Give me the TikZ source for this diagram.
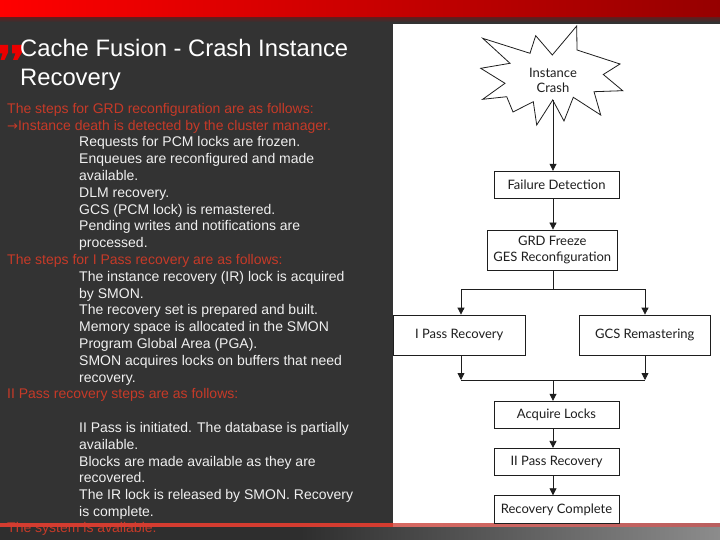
\documentclass[tikz,border=0pt]{standalone}
\usepackage{fontspec}
\setmainfont{Liberation Sans}
\newfontfamily\bodyfont{Liberation Sans}
\newfontfamily\diagfont{Lato}
\newfontfamily\arrowfont{DejaVu Sans}
\usetikzlibrary{arrows.meta}
\definecolor{bg}{RGB}{51,51,51}
\definecolor{bgstrip}{RGB}{46,46,46}
\definecolor{bgstripr}{RGB}{140,140,140}
\definecolor{topl}{RGB}{255,0,0}
\definecolor{topr}{RGB}{150,0,0}
\definecolor{topedge}{RGB}{95,30,30}
\definecolor{txtred}{RGB}{198,58,40}
\definecolor{txtwhite}{RGB}{240,240,240}
\definecolor{redline}{RGB}{212,60,48}
\definecolor{redlinel}{RGB}{215,105,98}
\definecolor{redliner}{RGB}{185,95,95}
\definecolor{quotered}{RGB}{235,0,0}
\definecolor{ink}{RGB}{30,30,30}
\tikzset{
  redtxt/.style={anchor=base west, inner sep=0, text=txtred, font=\bodyfont\fontsize{14}{16.8}\selectfont},
  whtxt/.style={anchor=base west, inner sep=0, text=txtwhite, font=\bodyfont\fontsize{14}{16.8}\selectfont},
  ttl/.style={anchor=base west, inner sep=0, text=white, font=\bodyfont\fontsize{23.8}{28}\selectfont},
  dbox/.style={draw=ink, line width=0.8pt, fill=white, text=ink, inner sep=0, align=center,
    font=\diagfont\fontsize{13}{16.3}\selectfont},
  conn/.style={draw=ink, line width=0.8pt},
  arr/.style={conn, -{Triangle[length=7pt,width=7pt]}}
}
\begin{document}
\begin{tikzpicture}[x=1pt,y=-1pt]
\useasboundingbox (0,0) rectangle (720,540);
% background
\fill[bg] (0,0) rectangle (720,540);
\shade[left color=topl, right color=topr] (0,0) rectangle (720,17.5);
\shade[top color=topedge, bottom color=bg] (0,17.5) rectangle (720,22);
\fill[bgstrip] (0,526) rectangle (720,540);
\shade[left color=bgstrip, right color=bgstripr] (300,526) rectangle (720,540);
% quote mark
\fill[quotered] (0,45) -- (8,45) -- (8,52.5) -- (4.5,60) -- (0.5,60) -- (2.5,53.5) -- (0,53.5) -- cycle;
\fill[quotered] (12,45) -- (22,45) -- (22,52.5) -- (17.5,60) -- (13,60) -- (15.5,53.5) -- (12,53.5) -- cycle;
% title
\node[ttl] (title1) at (20,57) {Cache Fusion - Crash Instance};
\node[ttl] (title2) at (20,86) {Recovery};
% body text
\node[redtxt] (t0) at (7,113.3) {The steps for GRD reconfiguration are as follows:};
\node[redtxt] (t1) at (7,130.1) {{\arrowfont\fontsize{13}{16}\selectfont →}Instance death is detected by the cluster manager.};
\node[whtxt] (t2) at (79,146.9) {Requests for PCM locks are frozen.};
\node[whtxt] (t3) at (79,163.7) {Enqueues are reconfigured and made};
\node[whtxt] (t4) at (79,180.5) {available.};
\node[whtxt] (t5) at (79,197.3) {DLM recovery.};
\node[whtxt] (t6) at (79,214.1) {GCS (PCM lock) is remastered.};
\node[whtxt] (t7) at (79,230.9) {Pending writes and notifications are};
\node[whtxt] (t8) at (79,247.7) {processed.};
\node[redtxt] (t9) at (7,264.5) {The steps for I Pass recovery are as follows:};
\node[whtxt] (t10) at (79,281.3) {The instance recovery (IR) lock is acquired};
\node[whtxt] (t11) at (79,298.1) {by SMON.};
\node[whtxt] (t12) at (79,314.9) {The recovery set is prepared and built.};
\node[whtxt] (t13) at (79,331.7) {Memory space is allocated in the SMON};
\node[whtxt] (t14) at (79,348.5) {Program Global Area (PGA).};
\node[whtxt] (t15) at (79,365.3) {SMON acquires locks on buffers that need};
\node[whtxt] (t16) at (79,382.1) {recovery.};
\node[redtxt] (t17) at (7,398.9) {II Pass recovery steps are as follows:};
\node[whtxt] (t19) at (79,432.5) {II Pass is initiated. The database is partially};
\node[whtxt] (t20) at (79,449.3) {available.};
\node[whtxt] (t21) at (79,466.1) {Blocks are made available as they are};
\node[whtxt] (t22) at (79,482.9) {recovered.};
\node[whtxt] (t23) at (79,499.7) {The IR lock is released by SMON. Recovery};
\node[whtxt] (t24) at (79,516.5) {is complete.};
\node[redtxt] (t25) at (7,532) {The system is available.};
% white panel
\fill[white] (393,24) rectangle (720,524);
% red line at bottom
\fill[redline] (0,523) rectangle (393,526.5);
\shade[left color=redlinel, right color=redliner] (393,523.5) rectangle (720,526.5);
% starburst
\draw[ink, line width=0.8pt, fill=white, line join=miter]
  (482.7,38.3) -- (530,53.3) -- (535.7,35.7) -- (552.3,55) -- (576.7,26) -- (577,50)
  -- (620,64) -- (603.3,74.5) -- (622.7,90.7) -- (594,91.7) -- (600.7,115)
  -- (573.3,97.3) -- (564,121) -- (552.7,100) -- (536.7,125) -- (533.3,101.7)
  -- (513,112) -- (506.7,96.7) -- (482.7,99.3) -- (505,83.3) -- (480.7,68.3)
  -- (510,63.3) -- cycle;
\node[inner sep=0, align=center, text=ink, font=\diagfont\fontsize{13}{15}\selectfont] (star) at (553,80) {Instance\\Crash};
\coordinate (colx) at (553,100);
% boxes
\node[dbox, minimum width=125pt, minimum height=27pt] (fd) at (556.5,184.7) {Failure Detection};
\node[dbox, minimum width=130pt, minimum height=40pt] (grd) at (552.3,250) {GRD Freeze\\GES Reconfiguration};
\node[dbox, minimum width=131.7pt, minimum height=40pt] (ip) at (459.2,335) {I Pass Recovery};
\node[dbox, minimum width=130.7pt, minimum height=40pt] (gcs) at (644.7,335) {GCS Remastering};
\node[dbox, minimum width=125pt, minimum height=27pt] (al) at (556.5,414.7) {Acquire Locks};
\node[dbox, minimum width=125pt, minimum height=27.4pt] (ii) at (556.5,462) {II Pass Recovery};
\node[dbox, minimum width=125pt, minimum height=27.6pt] (rc) at (556.5,509.5) {Recovery Complete};
% connectors
\coordinate (split) at (553,289.3);
\coordinate (sl) at (461,289.3);
\coordinate (sr) at (645,289.3);
\coordinate (ml) at (461,380);
\coordinate (mr) at (645,380);
\coordinate (mm) at (553,380);
\draw[arr] (colx) -- (fd.north -| colx);
\draw[arr] (fd.south -| colx) -- (grd.north -| colx);
\draw[conn] (grd.south -| colx) -- (split);
\draw[conn] (sl) -- (sr);
\draw[arr] (sl) -- (ip.north -| sl);
\draw[arr] (sr) -- (gcs.north -| sr);
\draw[arr] (ip.south -| sl) -- (ml);
\draw[arr] (gcs.south -| sr) -- (mr);
\draw[conn] (ml) -- (mr);
\draw[arr] (mm) -- (al.north -| mm);
\draw[arr] (al.south -| colx) -- (ii.north -| colx);
\draw[arr] (ii.south -| colx) -- (rc.north -| colx);
\end{tikzpicture}
\end{document}
